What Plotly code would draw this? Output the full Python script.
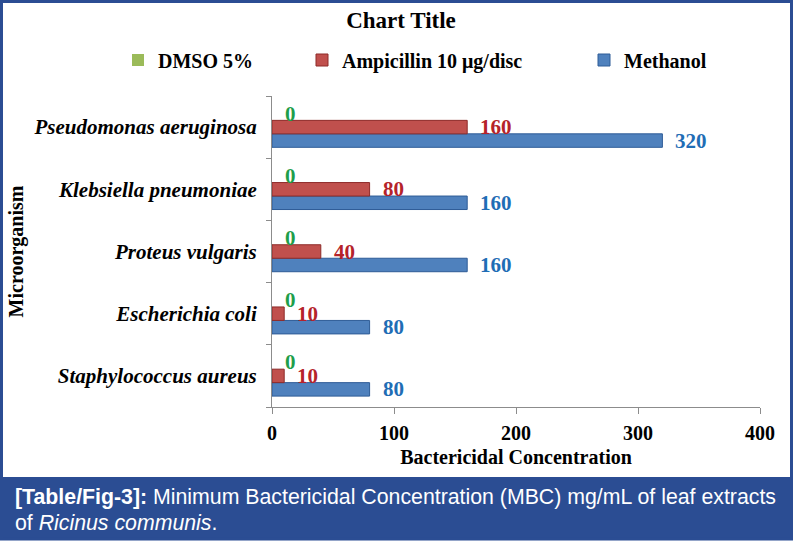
import plotly.graph_objects as go

# ---------------- data ----------------
categories = ["Staphylococcus aureus", "Escherichia coli", "Proteus vulgaris",
              "Klebsiella pneumoniae", "Pseudomonas aeruginosa"]
methanol = [80, 80, 160, 160, 320]
ampicillin = [10, 10, 40, 80, 160]
dmso = [0, 0, 0, 0, 0]
series_names = ["Methanol", "Ampicillin 10 μg/disc", "DMSO 5%"]
x_ticks = [0, 100, 200, 300, 400]

# ---------------- layout constants ----------------
W, H = 795, 546
L, R, T, B = 272, 35, 96, 139
PW, PH = W - L - R, H - T - B
SERIF = "Liberation Serif"
SANS = "Liberation Sans"
FRAME = "#2B4D93"
AXIS = "#8C8C8C"


def px2x(px):
    return (px - L) / PW


def py2y(py):
    return (H - B - py) / PH


bargap = 0.35
bar_px = PH / len(categories) * (1 - bargap) / 3

series = [
    dict(name=series_names[0], vals=methanol, fill="#4F81BD", line="#2E5C97", lw=1, txt="#1F6DB5", legend="legend3", shift=-bar_px),
    dict(name=series_names[1], vals=ampicillin, fill="#C0504D", line="#8E2B29", lw=1, txt="#B5232A", legend="legend2", shift=0),
    dict(name=series_names[2], vals=dmso, fill="#9BBB59", line="#71893F", lw=0, txt="#1E9E4A", legend="legend", shift=bar_px),
]

fig = go.Figure()
annotations = []
for s in series:
    fig.add_trace(go.Bar(
        y=categories, x=s["vals"], orientation="h", name=s["name"],
        marker=dict(color=s["fill"], line=dict(color=s["line"], width=s["lw"])),
        legend=s["legend"], hoverinfo="x+y",
    ))
    for c, v in zip(categories, s["vals"]):
        annotations.append(dict(
            x=v, y=c, xref="x", yref="y", text=str(v), showarrow=False,
            xanchor="left", yanchor="middle", xshift=11, yshift=s["shift"],
            font=dict(family=SERIF, size=21, color=s["txt"], weight="bold"),
        ))

# caption lines
annotations.append(dict(
    xref="paper", yref="paper", x=px2x(13), y=py2y(497), xanchor="left", yanchor="middle",
    showarrow=False, align="left",
    text="<b>[Table/Fig-3]:</b> Minimum Bactericidal Concentration (MBC) mg/mL of leaf extracts",
    font=dict(family=SANS, size=21.3, color="white"),
))
annotations.append(dict(
    xref="paper", yref="paper", x=px2x(13), y=py2y(523), xanchor="left", yanchor="middle",
    showarrow=False, align="left",
    text="of <i>Ricinus communis</i>.",
    font=dict(family=SANS, size=21.3, color="white"),
))

shapes = [
    # caption band
    dict(type="rect", xref="paper", yref="paper", x0=px2x(0), x1=px2x(793), y0=py2y(540), y1=py2y(477),
         fillcolor=FRAME, line=dict(width=0), layer="below"),
    # outer frame
    dict(type="rect", xref="paper", yref="paper", x0=px2x(1.5), x1=px2x(791.5), y0=py2y(539), y1=py2y(1.5),
         fillcolor="rgba(0,0,0,0)", line=dict(color=FRAME, width=3), layer="below"),
]

legend_font = dict(family=SERIF, size=20, color="black", weight="bold")


def legend_at(px):
    return dict(x=px2x(px), xanchor="left", y=py2y(60), yanchor="middle", orientation="h",
                font=legend_font, bgcolor="rgba(0,0,0,0)", itemwidth=30, itemclick=False,
                itemdoubleclick=False)


fig.update_layout(
    width=W, height=H,
    margin=dict(l=L, r=R, t=T, b=B),
    paper_bgcolor="white", plot_bgcolor="white",
    showlegend=True,
    barmode="group", bargap=bargap, bargroupgap=0,
    title=dict(text="Chart Title", x=401 / W, xref="container", xanchor="center",
               y=1 - 20 / H, yref="container", yanchor="middle",
               font=dict(family=SERIF, size=23, color="black", weight="bold")),
    legend=legend_at(118),
    legend2=legend_at(302),
    legend3=legend_at(584),
    xaxis=dict(range=[0, 400], tickvals=x_ticks, ticktext=[str(t) for t in x_ticks],
               showgrid=False, zeroline=False, showline=True, linecolor=AXIS, linewidth=1,
               ticks="outside", ticklen=6, tickcolor=AXIS, ticklabelstandoff=2,
               tickfont=dict(family=SERIF, size=20, color="black", weight="bold"),
               title=dict(text="Bactericidal Concentration", standoff=6,
                          font=dict(family=SERIF, size=20, color="black", weight="bold"))),
    yaxis=dict(type="category", categoryorder="array", categoryarray=categories,
               showgrid=False, zeroline=False, showline=True, linecolor=AXIS, linewidth=1,
               ticks="outside", tickson="boundaries", ticklen=5, tickcolor=AXIS,
               ticklabelstandoff=10,
               tickfont=dict(family=SERIF, size=21, color="black", weight="bold", style="italic"),
               title=dict(text="Microorganism", standoff=4,
                          font=dict(family=SERIF, size=20, color="black", weight="bold"))),
    annotations=annotations,
    shapes=shapes,
)

fig.write_html("out.html", config={"displayModeBar": False},
               post_script="document.body.style.margin='0';")
